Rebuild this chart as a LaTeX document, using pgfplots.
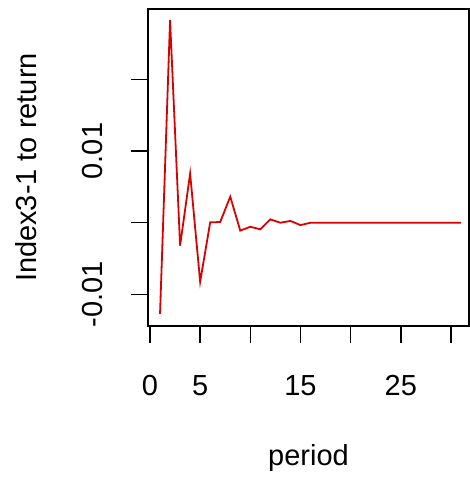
\documentclass[border=0pt]{standalone}
\usepackage{pgfplots}
\pgfplotsset{compat=1.18}
\usepackage{fontspec}
\setmainfont{Liberation Sans}
\begin{document}
\begin{tikzpicture}
\path[use as bounding box] (-74pt,-79pt) rectangle (161pt,163pt);
\begin{axis}[
  at={(0pt,0pt)}, anchor=south west,
  scale only axis,
  width=160.5pt, height=158.5pt,
  xmin=-0.2, xmax=31.8,
  ymin=-0.0144, ymax=0.0298,
  scaled y ticks=false, scaled x ticks=false,
  axis line style={line width=0.75pt},
  tick style={line width=0.75pt, black},
  tick align=outside,
  major tick length=8.5pt,
  xtick={0,5,10,15,20,25,30},
  xticklabels={0,5,,15,,25,},
  ytick={-0.01,0,0.01,0.02},
  yticklabels={\rotatebox{90}{-0.01},,\rotatebox{90}{0.01},},
  xtick pos=bottom, ytick pos=left,
  tick label style={font=\fontsize{14.5}{17}\selectfont},
  xticklabel style={anchor=base, inner sep=0pt, yshift=-26pt},
  yticklabel style={anchor=east, inner sep=0pt, xshift=-14pt},
  every axis x label/.style={at={(axis description cs:0.5,-0.4416)}, anchor=base, font=\fontsize{14.5}{17}\selectfont},
  every axis y label/.style={at={(axis description cs:-0.3458,0.5)}, rotate=90, anchor=base, font=\fontsize{14.5}{17}\selectfont},
  xlabel={period},
  ylabel={Index3-1 to return},
  clip=false,
]
\addplot[color=red!85!black, line width=0.9pt] coordinates {
(1,-0.01270) (2,0.02827) (3,-0.00320) (4,0.00685) (5,-0.00823)
(6,0.00005) (7,0.00010) (8,0.00363) (9,-0.00110) (10,-0.00056)
(11,-0.00092) (12,0.00047) (13,0.00000) (14,0.00025) (15,-0.00033)
(16,0) (17,0) (18,0) (19,0) (20,0) (21,0) (22,0) (23,0) (24,0)
(25,0) (26,0) (27,0) (28,0) (29,0) (30,0) (31,0)
};
\end{axis}
\end{tikzpicture}
\end{document}
